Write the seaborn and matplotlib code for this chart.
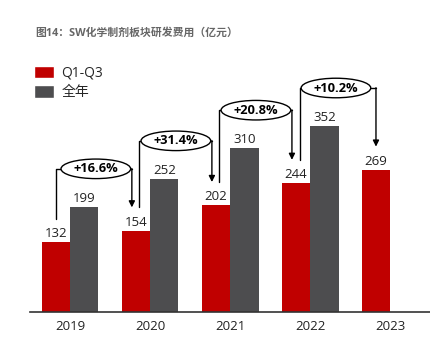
import seaborn as sns
import matplotlib.pyplot as plt
import pandas as pd
from matplotlib.patches import Ellipse, Patch

years = ['2019', '2020', '2021', '2022', '2023']
q1q3 = [132, 154, 202, 244, 269]
full_year = [199, 252, 310, 352, None]
growth = ['+16.6%', '+31.4%', '+20.8%', '+10.2%']
series_names = ['Q1-Q3', '全年']

RED = '#C00000'
GREY = '#4D4D4F'

sns.set_theme(style="white")
plt.rcParams['font.family'] = ['Open Sans', 'Noto Sans CJK SC', 'DejaVu Sans']

rows = []
for i, y in enumerate(years):
    rows.append({'year': y, 'value': q1q3[i], 'series': series_names[0]})
    if full_year[i] is not None:
        rows.append({'year': y, 'value': full_year[i], 'series': series_names[1]})
df = pd.DataFrame(rows)

fig = plt.figure(figsize=(4.31, 3.52), dpi=100)
ax = fig.add_axes([30 / 431, 40 / 352, 401 / 431, 252 / 352])

sns.barplot(data=df, x='year', y='value', hue='series', hue_order=series_names,
            palette=[RED, GREY], width=0.71, linewidth=0, saturation=1,
            order=years, ax=ax, legend=False)

for c in ax.containers:
    ax.bar_label(c, fmt='%d', padding=1.5, fontsize=9.5, color='#222222')

ax.set_ylim(0, 477)
ax.set_xlim(-0.5, 4.51)
ax.set_xlabel('')
ax.set_ylabel('')
ax.set_yticks([])
ax.tick_params(axis='x', length=0, labelsize=9.5, colors='#222222', pad=6)
for s in ['top', 'right', 'left']:
    ax.spines[s].set_visible(False)
ax.spines['bottom'].set_color('#333333')
ax.spines['bottom'].set_linewidth(1.2)

# growth brackets
off = 0.71 / 4
ew, eh = 0.87, 37
for i, g in enumerate(growth):
    sx = i - off + (0 if i == 0 else 0.045)
    ex = i + 1 - off - (0.0 if i == 3 else 0.05)
    level = full_year[i] + 72
    y0 = q1q3[i] + 44
    y1 = q1q3[i + 1] + 44
    cx = (i - off + i + 1 - off) / 2
    ax.plot([sx, sx, cx - ew / 2], [y0, level, level], color='black', lw=1,
            clip_on=False, zorder=4)
    ax.plot([cx + ew / 2, ex], [level, level], color='black', lw=1,
            clip_on=False, zorder=4)
    ax.annotate('', xy=(ex, y1), xytext=(ex, level + 0.5),
                arrowprops=dict(arrowstyle='-|>', color='black', lw=1,
                                mutation_scale=9, shrinkA=0, shrinkB=0),
                zorder=4)
    ax.add_patch(Ellipse((cx, level), ew, eh, facecolor='white',
                         edgecolor='black', lw=1, zorder=5, clip_on=False))
    ax.text(cx, level, g, ha='center', va='center', fontsize=9.3,
            fontweight='bold', color='black', zorder=6)

# title
fig.text(35 / 431, 1 - 33 / 352, '图14：SW化学制剂板块研发费用（亿元）',
         fontsize=7.8, fontweight='bold', color='#666666', va='center')

# legend
handles = [Patch(facecolor=RED), Patch(facecolor=GREY)]
fig.legend(handles, series_names, loc='upper left',
           bbox_to_anchor=(28 / 431, 1 - 60 / 352), frameon=False,
           fontsize=10, handlelength=1.5, handleheight=1.0,
           handletextpad=0.5, labelspacing=0.35, borderaxespad=0)

plt.savefig('out.png', dpi=100)
